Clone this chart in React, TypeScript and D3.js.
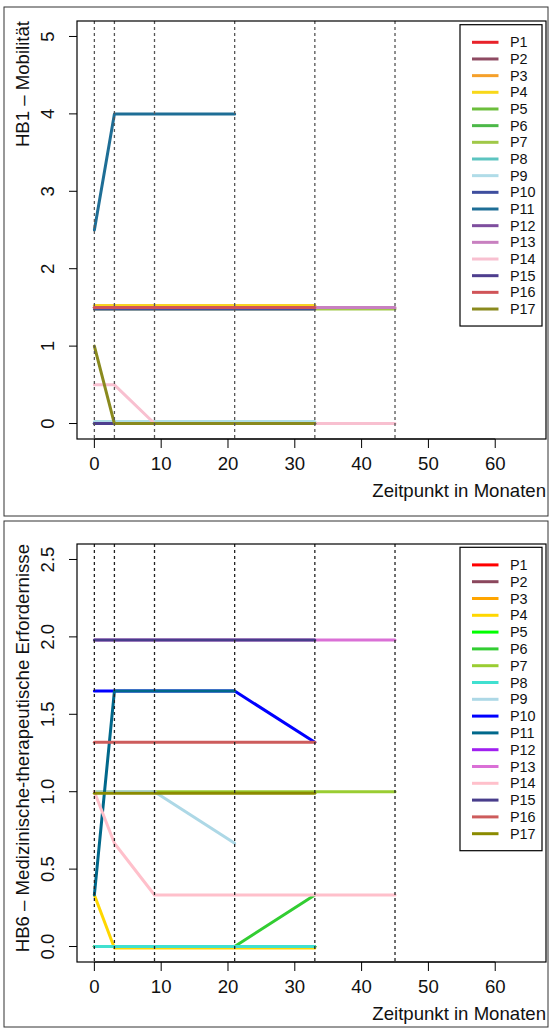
import React from 'react';
import * as d3 from 'd3';

// ---------- data ----------
const TIMES = [0, 3, 9, 21, 33, 45];
const PATIENTS = ['P1','P2','P3','P4','P5','P6','P7','P8','P9','P10','P11','P12','P13','P14','P15','P16','P17'];
const X_TICKS = [0, 10, 20, 30, 40, 50, 60];
const HB1_TICKS = [0, 1, 2, 3, 4, 5];
const HB6_TICKS = [0, 0.5, 1, 1.5, 2, 2.5];
const HB1_TITLE = 'HB1 – Mobilität';
const HB6_TITLE = 'HB6 – Medizinische-therapeutische Erfordernisse';
const X_TITLE = 'Zeitpunkt in Monaten';

// values at TIMES (null = no observation)
const HB1: (number | null)[][] = [
  [1.5, 1.5, 1.5, 1.5, 1.5, null],      // P1
  [1.5, 1.5, 1.5, 1.5, 1.5, null],      // P2
  [1.52, 1.52, 1.52, 1.52, 1.52, null], // P3
  [1.52, 1.52, 1.52, 1.52, 1.52, null], // P4
  [0, 0, 0, 0, 0, null],                // P5
  [0, 0, 0, 0, 0, null],                // P6
  [1.48, 1.48, 1.48, 1.48, 1.48, 1.48], // P7
  [0.02, 0.02, 0.02, 0.02, 0.02, null], // P8
  [0.02, 0.02, 0.02, 0.02, 0.02, null], // P9
  [1.48, 1.48, 1.48, 1.48, 1.48, null], // P10
  [2.5, 4, 4, 4, null, null],           // P11
  [0, 0, 0, 0, 0, null],                // P12
  [1.5, 1.5, 1.5, 1.5, 1.5, 1.5],       // P13
  [0.5, 0.5, 0, 0, 0, 0],               // P14
  [0, 0, 0, 0, 0, null],                // P15
  [1.5, 1.5, 1.5, 1.5, 1.5, null],      // P16
  [1, 0, 0, 0, 0, null],                // P17
];

const HB6: (number | null)[][] = [
  [0, 0, 0, 0, 0, null],                // P1
  [0, 0, 0, 0, 0, null],                // P2
  [0, 0, 0, 0, 0, null],                // P3
  [0.333, -0.01, -0.01, -0.01, -0.01, null], // P4
  [0, 0, 0, 0, 0, null],                // P5
  [0, 0, 0, 0, 0.333, null],            // P6
  [1.0, 1.0, 1.0, 1.0, 1.0, 1.0],       // P7
  [0, 0, 0, 0, 0, null],                // P8
  [1.0, 1.0, 1.0, 0.667, null, null],   // P9
  [1.65, 1.65, 1.65, 1.65, 1.32, null], // P10
  [0.333, 1.65, 1.65, 1.65, null, null],// P11
  [null, null, null, null, null, null], // P12
  [1.98, 1.98, 1.98, 1.98, 1.98, 1.98], // P13
  [1.0, 0.667, 0.333, 0.333, 0.333, 0.333], // P14
  [1.98, 1.98, 1.98, 1.98, 1.98, null], // P15
  [1.32, 1.32, 1.32, 1.32, 1.32, null], // P16
  [0.99, 0.99, 0.99, 0.99, 0.99, null], // P17
];

const HB1_COLORS = ['#E8222A','#8E4A62','#F5A02A','#F8D81A','#6CBE3C','#4CB848','#A0C848','#5CC4C0','#B0DCE8','#3E4E9E','#1E6E96','#7E4E9E','#C880C0','#F8C0D0','#4E3E8E','#D05458','#8A8A1E'];
const HB6_COLORS = ['#FF0000','#8B475D','#FFA500','#FFD700','#00FF00','#32CD32','#9ACD32','#40E0D0','#ADD8E6','#0000FF','#00688B','#A020F0','#DA70D6','#FFC0CB','#483D8B','#CD5C5C','#8B8B00'];

// ---------- layout ----------
const W = 552, H = 1030;
const FONT = '"Liberation Sans", Arial, Helvetica, sans-serif';
const FS = 18.6;

type PanelProps = {
  top: number; data: (number | null)[][]; colors: string[]; yTicks: number[]; yMax: number;
  yTitle: string; fmt: (v: number) => string; dashColor: string; legendTop: number; legendStep: number;
};

function Panel({ top, data, colors, yTicks, yMax, yTitle, fmt, dashColor, legendTop, legendStep }: PanelProps) {
  const left = 77, right = 546, pTop = top, pBot = top + 418;
  const x = d3.scaleLinear().domain([0 - 65 * 0.04, 65 * 1.04]).range([left, right]);
  const y = d3.scaleLinear().domain([-yMax * 0.04, yMax * 1.04]).range([pBot, pTop]);
  const line = d3.line<[number, number | null]>()
    .defined(d => d[1] !== null)
    .x(d => x(d[0]))
    .y(d => y(d[1] as number));
  const legRow0 = legendTop + 17.6;
  return (
    <g>
      {data.map((s, i) => (
        <path key={i} d={line(TIMES.map((t, j) => [t, s[j]] as [number, number | null])) || ''}
          fill="none" stroke={colors[i]} strokeWidth={3} strokeLinejoin="round" strokeLinecap="round" />
      ))}
      {TIMES.map(t => (
        <line key={t} x1={x(t)} x2={x(t)} y1={pTop} y2={pBot} stroke={dashColor} strokeWidth={1.3} strokeDasharray="3,3" />
      ))}
      <rect x={left} y={pTop} width={right - left} height={pBot - pTop} fill="none" stroke="#000" strokeWidth={1.2} />
      {/* x axis */}
      <line x1={x(0)} x2={x(60)} y1={pBot} y2={pBot} stroke="#000" strokeWidth={1} />
      {X_TICKS.map(t => (
        <g key={t}>
          <line x1={x(t)} x2={x(t)} y1={pBot} y2={pBot + 9} stroke="#000" strokeWidth={1} />
          <text x={x(t)} y={pBot + 30.5} textAnchor="middle" fontSize={FS} fontFamily={FONT} fill="#111">{t}</text>
        </g>
      ))}
      <text x={right} y={pBot + 58} textAnchor="end" fontSize={FS} fontFamily={FONT} fill="#111">{X_TITLE}</text>
      {/* y axis */}
      {yTicks.map(t => (
        <g key={t}>
          <line x1={left - 8} x2={left} y1={y(t)} y2={y(t)} stroke="#000" strokeWidth={1} />
          <text transform={`translate(${left - 23},${y(t)}) rotate(-90)`} textAnchor="middle" fontSize={FS} fontFamily={FONT} fill="#111">{fmt(t)}</text>
        </g>
      ))}
      <text transform={`translate(29,${pTop}) rotate(-90)`} textAnchor="end" fontSize={FS} fontFamily={FONT} fill="#111">{yTitle}</text>
      {/* legend */}
      <rect x={460} y={legendTop} width={82} height={legRow0 + 16 * legendStep + 17 - legendTop} fill="#fff" stroke="#000" strokeWidth={1.2} />
      {PATIENTS.map((p, i) => (
        <g key={p}>
          <line x1={472} x2={498.5} y1={legRow0 + i * legendStep} y2={legRow0 + i * legendStep} stroke={colors[i]} strokeWidth={3} />
          <text x={510} y={legRow0 + i * legendStep} dy="0.35em" fontSize={14.4} fontFamily={FONT} fill="#111">{p}</text>
        </g>
      ))}
    </g>
  );
}

export default function App() {
  return (
    <svg width={W} height={H} style={{ position: 'absolute', left: 0, top: 0, background: '#fff' }}>
      <rect x={0} y={0} width={W} height={H} fill="#fff" />
      <rect x={4} y={7} width={544} height={509} fill="none" stroke="#333" strokeWidth={1} />
      <rect x={4} y={521} width={544} height={506} fill="none" stroke="#333" strokeWidth={1} />
      <Panel top={21} data={HB1} colors={HB1_COLORS} yTicks={HB1_TICKS} yMax={5} yTitle={HB1_TITLE}
        fmt={v => String(v)} dashColor="#555" legendTop={24.7} legendStep={16.67} />
      <Panel top={544} data={HB6} colors={HB6_COLORS} yTicks={HB6_TICKS} yMax={2.5} yTitle={HB6_TITLE}
        fmt={v => v.toFixed(1)} dashColor="#222" legendTop={547.3} legendStep={16.8} />
    </svg>
  );
}
